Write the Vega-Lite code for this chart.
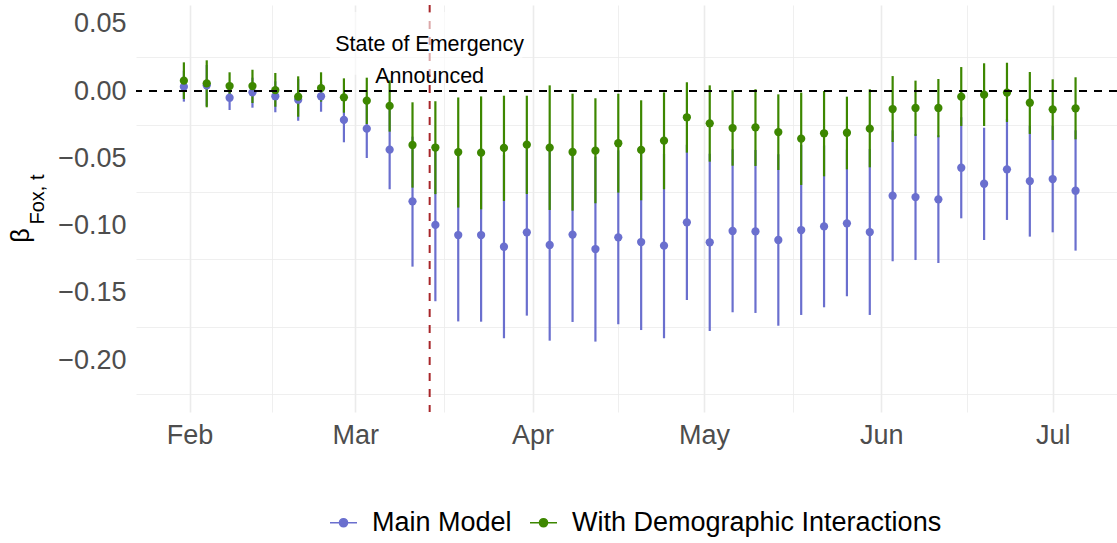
{
  "$schema": "https://vega.github.io/schema/vega-lite/v6.json",
  "width": 981,
  "height": 407,
  "autosize": "none",
  "padding": {"left": 136, "top": 5, "right": 0, "bottom": 131},
  "background": "white",
  "config": {
    "view": {"stroke": null},
    "font": "Liberation Sans",
    "axis": {"domain": false, "ticks": false, "labelFont": "Liberation Sans", "titleFont": "Liberation Sans", "labelColor": "#4D4D4D", "labelFontSize": 27, "gridColor": "#EBEBEB"}
  },
  "datasets": {
    "est": [
      {"date": "2020-01-31", "series": "Main Model", "est": 0.0032, "lo": -0.0079, "hi": 0.0151},
      {"date": "2020-02-04", "series": "Main Model", "est": 0.0042, "lo": -0.0111, "hi": 0.0193},
      {"date": "2020-02-08", "series": "Main Model", "est": -0.0050, "lo": -0.0141, "hi": 0.0037},
      {"date": "2020-02-12", "series": "Main Model", "est": -0.0010, "lo": -0.0124, "hi": 0.0099},
      {"date": "2020-02-16", "series": "Main Model", "est": -0.0039, "lo": -0.0158, "hi": 0.0072},
      {"date": "2020-02-20", "series": "Main Model", "est": -0.0065, "lo": -0.0221, "hi": 0.0089},
      {"date": "2020-02-24", "series": "Main Model", "est": -0.0039, "lo": -0.0154, "hi": 0.0069},
      {"date": "2020-02-28", "series": "Main Model", "est": -0.0215, "lo": -0.0381, "hi": -0.0047},
      {"date": "2020-03-03", "series": "Main Model", "est": -0.0280, "lo": -0.0498, "hi": -0.0067},
      {"date": "2020-03-07", "series": "Main Model", "est": -0.0436, "lo": -0.0730, "hi": -0.0141},
      {"date": "2020-03-11", "series": "Main Model", "est": -0.0820, "lo": -0.1305, "hi": -0.0339},
      {"date": "2020-03-15", "series": "Main Model", "est": -0.0995, "lo": -0.1562, "hi": -0.0435},
      {"date": "2020-03-19", "series": "Main Model", "est": -0.1070, "lo": -0.1712, "hi": -0.0430},
      {"date": "2020-03-23", "series": "Main Model", "est": -0.1070, "lo": -0.1714, "hi": -0.0426},
      {"date": "2020-03-27", "series": "Main Model", "est": -0.1157, "lo": -0.1837, "hi": -0.0475},
      {"date": "2020-03-31", "series": "Main Model", "est": -0.1050, "lo": -0.1669, "hi": -0.0433},
      {"date": "2020-04-04", "series": "Main Model", "est": -0.1144, "lo": -0.1855, "hi": -0.0433},
      {"date": "2020-04-08", "series": "Main Model", "est": -0.1067, "lo": -0.1716, "hi": -0.0426},
      {"date": "2020-04-12", "series": "Main Model", "est": -0.1174, "lo": -0.1862, "hi": -0.0488},
      {"date": "2020-04-16", "series": "Main Model", "est": -0.1087, "lo": -0.1733, "hi": -0.0441},
      {"date": "2020-04-20", "series": "Main Model", "est": -0.1122, "lo": -0.1776, "hi": -0.0468},
      {"date": "2020-04-24", "series": "Main Model", "est": -0.1149, "lo": -0.1837, "hi": -0.0466},
      {"date": "2020-04-28", "series": "Main Model", "est": -0.0976, "lo": -0.1553, "hi": -0.0399},
      {"date": "2020-05-02", "series": "Main Model", "est": -0.1124, "lo": -0.1783, "hi": -0.0466},
      {"date": "2020-05-06", "series": "Main Model", "est": -0.1040, "lo": -0.1644, "hi": -0.0433},
      {"date": "2020-05-10", "series": "Main Model", "est": -0.1043, "lo": -0.1649, "hi": -0.0438},
      {"date": "2020-05-14", "series": "Main Model", "est": -0.1107, "lo": -0.1744, "hi": -0.0470},
      {"date": "2020-05-18", "series": "Main Model", "est": -0.1033, "lo": -0.1664, "hi": -0.0401},
      {"date": "2020-05-22", "series": "Main Model", "est": -0.1006, "lo": -0.1607, "hi": -0.0404},
      {"date": "2020-05-26", "series": "Main Model", "est": -0.0983, "lo": -0.1525, "hi": -0.0436},
      {"date": "2020-05-30", "series": "Main Model", "est": -0.1048, "lo": -0.1664, "hi": -0.0431},
      {"date": "2020-06-03", "series": "Main Model", "est": -0.0778, "lo": -0.1265, "hi": -0.0292},
      {"date": "2020-06-07", "series": "Main Model", "est": -0.0788, "lo": -0.1256, "hi": -0.0319},
      {"date": "2020-06-11", "series": "Main Model", "est": -0.0805, "lo": -0.1278, "hi": -0.0329},
      {"date": "2020-06-15", "series": "Main Model", "est": -0.0570, "lo": -0.0946, "hi": -0.0195},
      {"date": "2020-06-19", "series": "Main Model", "est": -0.0689, "lo": -0.1107, "hi": -0.0273},
      {"date": "2020-06-23", "series": "Main Model", "est": -0.0582, "lo": -0.0958, "hi": -0.0208},
      {"date": "2020-06-27", "series": "Main Model", "est": -0.0669, "lo": -0.1082, "hi": -0.0258},
      {"date": "2020-07-01", "series": "Main Model", "est": -0.0654, "lo": -0.1050, "hi": -0.0258},
      {"date": "2020-07-05", "series": "Main Model", "est": -0.0741, "lo": -0.1186, "hi": -0.0292},
      {"date": "2020-01-31", "series": "With Demographic Interactions", "est": 0.0077, "lo": -0.0059, "hi": 0.0213},
      {"date": "2020-02-04", "series": "With Demographic Interactions", "est": 0.0057, "lo": -0.0121, "hi": 0.0228},
      {"date": "2020-02-08", "series": "With Demographic Interactions", "est": 0.0037, "lo": -0.0067, "hi": 0.0139},
      {"date": "2020-02-12", "series": "With Demographic Interactions", "est": 0.0037, "lo": -0.0089, "hi": 0.0158},
      {"date": "2020-02-16", "series": "With Demographic Interactions", "est": 0.0007, "lo": -0.0117, "hi": 0.0134},
      {"date": "2020-02-20", "series": "With Demographic Interactions", "est": -0.0042, "lo": -0.0191, "hi": 0.0109},
      {"date": "2020-02-24", "series": "With Demographic Interactions", "est": 0.0022, "lo": -0.0079, "hi": 0.0139},
      {"date": "2020-02-28", "series": "With Demographic Interactions", "est": -0.0047, "lo": -0.0161, "hi": 0.0094},
      {"date": "2020-03-03", "series": "With Demographic Interactions", "est": -0.0072, "lo": -0.0245, "hi": 0.0099},
      {"date": "2020-03-07", "series": "With Demographic Interactions", "est": -0.0111, "lo": -0.0302, "hi": 0.0079},
      {"date": "2020-03-11", "series": "With Demographic Interactions", "est": -0.0401, "lo": -0.0718, "hi": -0.0084},
      {"date": "2020-03-15", "series": "With Demographic Interactions", "est": -0.0420, "lo": -0.0766, "hi": -0.0076},
      {"date": "2020-03-19", "series": "With Demographic Interactions", "est": -0.0454, "lo": -0.0866, "hi": -0.0048},
      {"date": "2020-03-23", "series": "With Demographic Interactions", "est": -0.0458, "lo": -0.0879, "hi": -0.0040},
      {"date": "2020-03-27", "series": "With Demographic Interactions", "est": -0.0423, "lo": -0.0817, "hi": -0.0035},
      {"date": "2020-03-31", "series": "With Demographic Interactions", "est": -0.0399, "lo": -0.0765, "hi": -0.0035},
      {"date": "2020-04-04", "series": "With Demographic Interactions", "est": -0.0421, "lo": -0.0884, "hi": 0.0042},
      {"date": "2020-04-08", "series": "With Demographic Interactions", "est": -0.0453, "lo": -0.0889, "hi": -0.0020},
      {"date": "2020-04-12", "series": "With Demographic Interactions", "est": -0.0443, "lo": -0.0834, "hi": -0.0054},
      {"date": "2020-04-16", "series": "With Demographic Interactions", "est": -0.0388, "lo": -0.0755, "hi": -0.0020},
      {"date": "2020-04-20", "series": "With Demographic Interactions", "est": -0.0438, "lo": -0.0812, "hi": -0.0069},
      {"date": "2020-04-24", "series": "With Demographic Interactions", "est": -0.0369, "lo": -0.0730, "hi": -0.0010},
      {"date": "2020-04-28", "series": "With Demographic Interactions", "est": -0.0195, "lo": -0.0458, "hi": 0.0065},
      {"date": "2020-05-02", "series": "With Demographic Interactions", "est": -0.0240, "lo": -0.0525, "hi": 0.0042},
      {"date": "2020-05-06", "series": "With Demographic Interactions", "est": -0.0275, "lo": -0.0555, "hi": 0.0005},
      {"date": "2020-05-10", "series": "With Demographic Interactions", "est": -0.0270, "lo": -0.0557, "hi": 0.0013},
      {"date": "2020-05-14", "series": "With Demographic Interactions", "est": -0.0305, "lo": -0.0587, "hi": -0.0025},
      {"date": "2020-05-18", "series": "With Demographic Interactions", "est": -0.0354, "lo": -0.0698, "hi": -0.0012},
      {"date": "2020-05-22", "series": "With Demographic Interactions", "est": -0.0314, "lo": -0.0634, "hi": 0.0000},
      {"date": "2020-05-26", "series": "With Demographic Interactions", "est": -0.0310, "lo": -0.0582, "hi": -0.0042},
      {"date": "2020-05-30", "series": "With Demographic Interactions", "est": -0.0280, "lo": -0.0567, "hi": 0.0013},
      {"date": "2020-06-03", "series": "With Demographic Interactions", "est": -0.0134, "lo": -0.0379, "hi": 0.0111},
      {"date": "2020-06-07", "series": "With Demographic Interactions", "est": -0.0126, "lo": -0.0334, "hi": 0.0077},
      {"date": "2020-06-11", "series": "With Demographic Interactions", "est": -0.0126, "lo": -0.0344, "hi": 0.0089},
      {"date": "2020-06-15", "series": "With Demographic Interactions", "est": -0.0042, "lo": -0.0260, "hi": 0.0178},
      {"date": "2020-06-19", "series": "With Demographic Interactions", "est": -0.0027, "lo": -0.0260, "hi": 0.0206},
      {"date": "2020-06-23", "series": "With Demographic Interactions", "est": -0.0012, "lo": -0.0230, "hi": 0.0210},
      {"date": "2020-06-27", "series": "With Demographic Interactions", "est": -0.0087, "lo": -0.0319, "hi": 0.0141},
      {"date": "2020-07-01", "series": "With Demographic Interactions", "est": -0.0136, "lo": -0.0364, "hi": 0.0087},
      {"date": "2020-07-05", "series": "With Demographic Interactions", "est": -0.0129, "lo": -0.0359, "hi": 0.0102}
    ],
    "note": [
      {"date": "2020-03-14", "x0": "2020-02-25T14:00:00Z", "x1": "2020-03-30T05:00:00Z", "y": 0.0342, "y0": 0.012, "y1": 0.0587, "zero": 0, "label": "State of Emergency\nAnnounced"}
    ]
  },
  "layer": [
    {
      "data": {"name": "note"},
      "mark": {"type": "rule", "color": "#A8262A", "strokeWidth": 2, "strokeDash": [8, 8]},
      "encoding": {
        "x": {"field": "date", "type": "temporal"}
      }
    },
    {
      "data": {"name": "note"},
      "mark": {"type": "rect", "color": "white", "opacity": 0.6},
      "encoding": {
        "x": {"field": "x0", "type": "temporal"},
        "x2": {"field": "x1"},
        "y": {
          "field": "y0", "type": "quantitative",
          "axis": {
            "orient": "left",
            "values": [-0.225, -0.175, -0.125, -0.075, -0.025, 0.025],
            "labels": false,
            "grid": true,
            "gridWidth": 0.8,
            "title": "Fox, t",
            "titleFontSize": 20,
            "titleFontWeight": "normal",
            "titleColor": "black",
            "titleX": -93,
            "titleY": 194,
            "titleAlign": "center",
            "titleBaseline": "alphabetic",
            "titleAngle": 270
          }
        },
        "y2": {"field": "y1"}
      }
    },
    {
      "data": {"name": "est"},
      "mark": {"type": "rule", "strokeWidth": 2.2},
      "encoding": {
        "x": {"field": "date", "type": "temporal"},
        "xOffset": {"field": "series", "type": "nominal", "scale": {"domain": ["Main Model", "With Demographic Interactions"], "range": [-2, 2]}},
        "y": {"field": "lo", "type": "quantitative", "axis": null},
        "y2": {"field": "hi"},
        "color": {"field": "series", "type": "nominal"}
      }
    },
    {
      "data": {"name": "est"},
      "mark": {"type": "point", "filled": true, "opacity": 1, "size": 68, "shape": "circle"},
      "encoding": {
        "x": {
          "field": "date", "type": "temporal",
          "scale": {"type": "utc", "domain": [{"year": 2020, "month": "jan", "date": 22, "hours": 15, "utc": true}, {"year": 2020, "month": "jul", "date": 12, "hours": 6, "utc": true}]},
          "axis": {
            "title": null,
            "values": [
              {"year": 2020, "month": "feb", "date": 1, "utc": true},
              {"year": 2020, "month": "feb", "date": 15, "hours": 12, "utc": true},
              {"year": 2020, "month": "mar", "date": 1, "utc": true},
              {"year": 2020, "month": "mar", "date": 16, "hours": 12, "utc": true},
              {"year": 2020, "month": "apr", "date": 1, "utc": true},
              {"year": 2020, "month": "apr", "date": 16, "utc": true},
              {"year": 2020, "month": "may", "date": 1, "utc": true},
              {"year": 2020, "month": "may", "date": 16, "hours": 12, "utc": true},
              {"year": 2020, "month": "jun", "date": 1, "utc": true},
              {"year": 2020, "month": "jun", "date": 16, "utc": true},
              {"year": 2020, "month": "jul", "date": 1, "utc": true}
            ],
            "labelExpr": "utcdate(datum.value) == 1 && utchours(datum.value) == 0 ? utcFormat(datum.value, '%b') : ''",
            "gridWidth": {"condition": {"test": "utcdate(datum.value) == 1 && utchours(datum.value) == 0", "value": 1.6}, "value": 0.8},
            "labelPadding": 10,
            "labelFlush": false,
            "labelOverlap": false
          }
        },
        "xOffset": {"field": "series", "type": "nominal", "scale": {"domain": ["Main Model", "With Demographic Interactions"], "range": [-2, 2]}},
        "y": {
          "field": "est", "type": "quantitative",
          "scale": {"domain": [-0.2385, 0.0639], "nice": false, "zero": false},
          "axis": {
            "orient": "left",
            "values": [-0.2, -0.15, -0.1, -0.05, 0, 0.05],
            "format": ".2f",
            "gridWidth": 1.6,
            "labelPadding": 10,
            "labelOverlap": false,
            "labelFlush": false,
            "title": "β",
            "titleFontSize": 25,
            "titleFontWeight": "normal",
            "titleColor": "black",
            "titleX": -108,
            "titleY": 230,
            "titleAlign": "center",
            "titleBaseline": "alphabetic",
            "titleAngle": 270
          }
        },
        "color": {
          "field": "series", "type": "nominal",
          "scale": {"domain": ["Main Model", "With Demographic Interactions"], "range": ["#6A6FCE", "#3D8700"]},
          "legend": {
            "title": null,
            "orient": "none",
            "direction": "horizontal",
            "legendX": 193,
            "legendY": 503,
            "padding": 0,
            "labelFontSize": 27,
            "labelColor": "black",
            "labelFont": "Liberation Sans",
            "labelLimit": 600,
            "labelOffset": 14,
            "columnPadding": 15,
            "symbolSize": 729,
            "symbolType": "M-1,0H1M-0.3,0A0.3,0.3,0,1,1,0.3,0A0.3,0.3,0,1,1,-0.3,0Z",
            "encode": {"symbols": {"update": {"stroke": {"scale": "color", "field": "value"}, "strokeWidth": {"value": 2.2}, "opacity": {"value": 1}}}}
          }
        }
      }
    },
    {
      "data": {"name": "note"},
      "mark": {"type": "text", "font": "Liberation Sans", "fontSize": 21.5, "lineHeight": 32, "lineBreak": "\n", "align": "center", "baseline": "middle", "color": "black"},
      "encoding": {
        "x": {"field": "date", "type": "temporal"},
        "y": {"field": "y", "type": "quantitative", "axis": null},
        "text": {"field": "label"}
      }
    },
    {
      "data": {"name": "note"},
      "mark": {"type": "rule", "color": "black", "strokeWidth": 1.8, "strokeDash": [8, 7]},
      "encoding": {
        "y": {"field": "zero", "type": "quantitative", "axis": null}
      }
    }
  ],
  "resolve": {"axis": {"y": "independent"}}
}
